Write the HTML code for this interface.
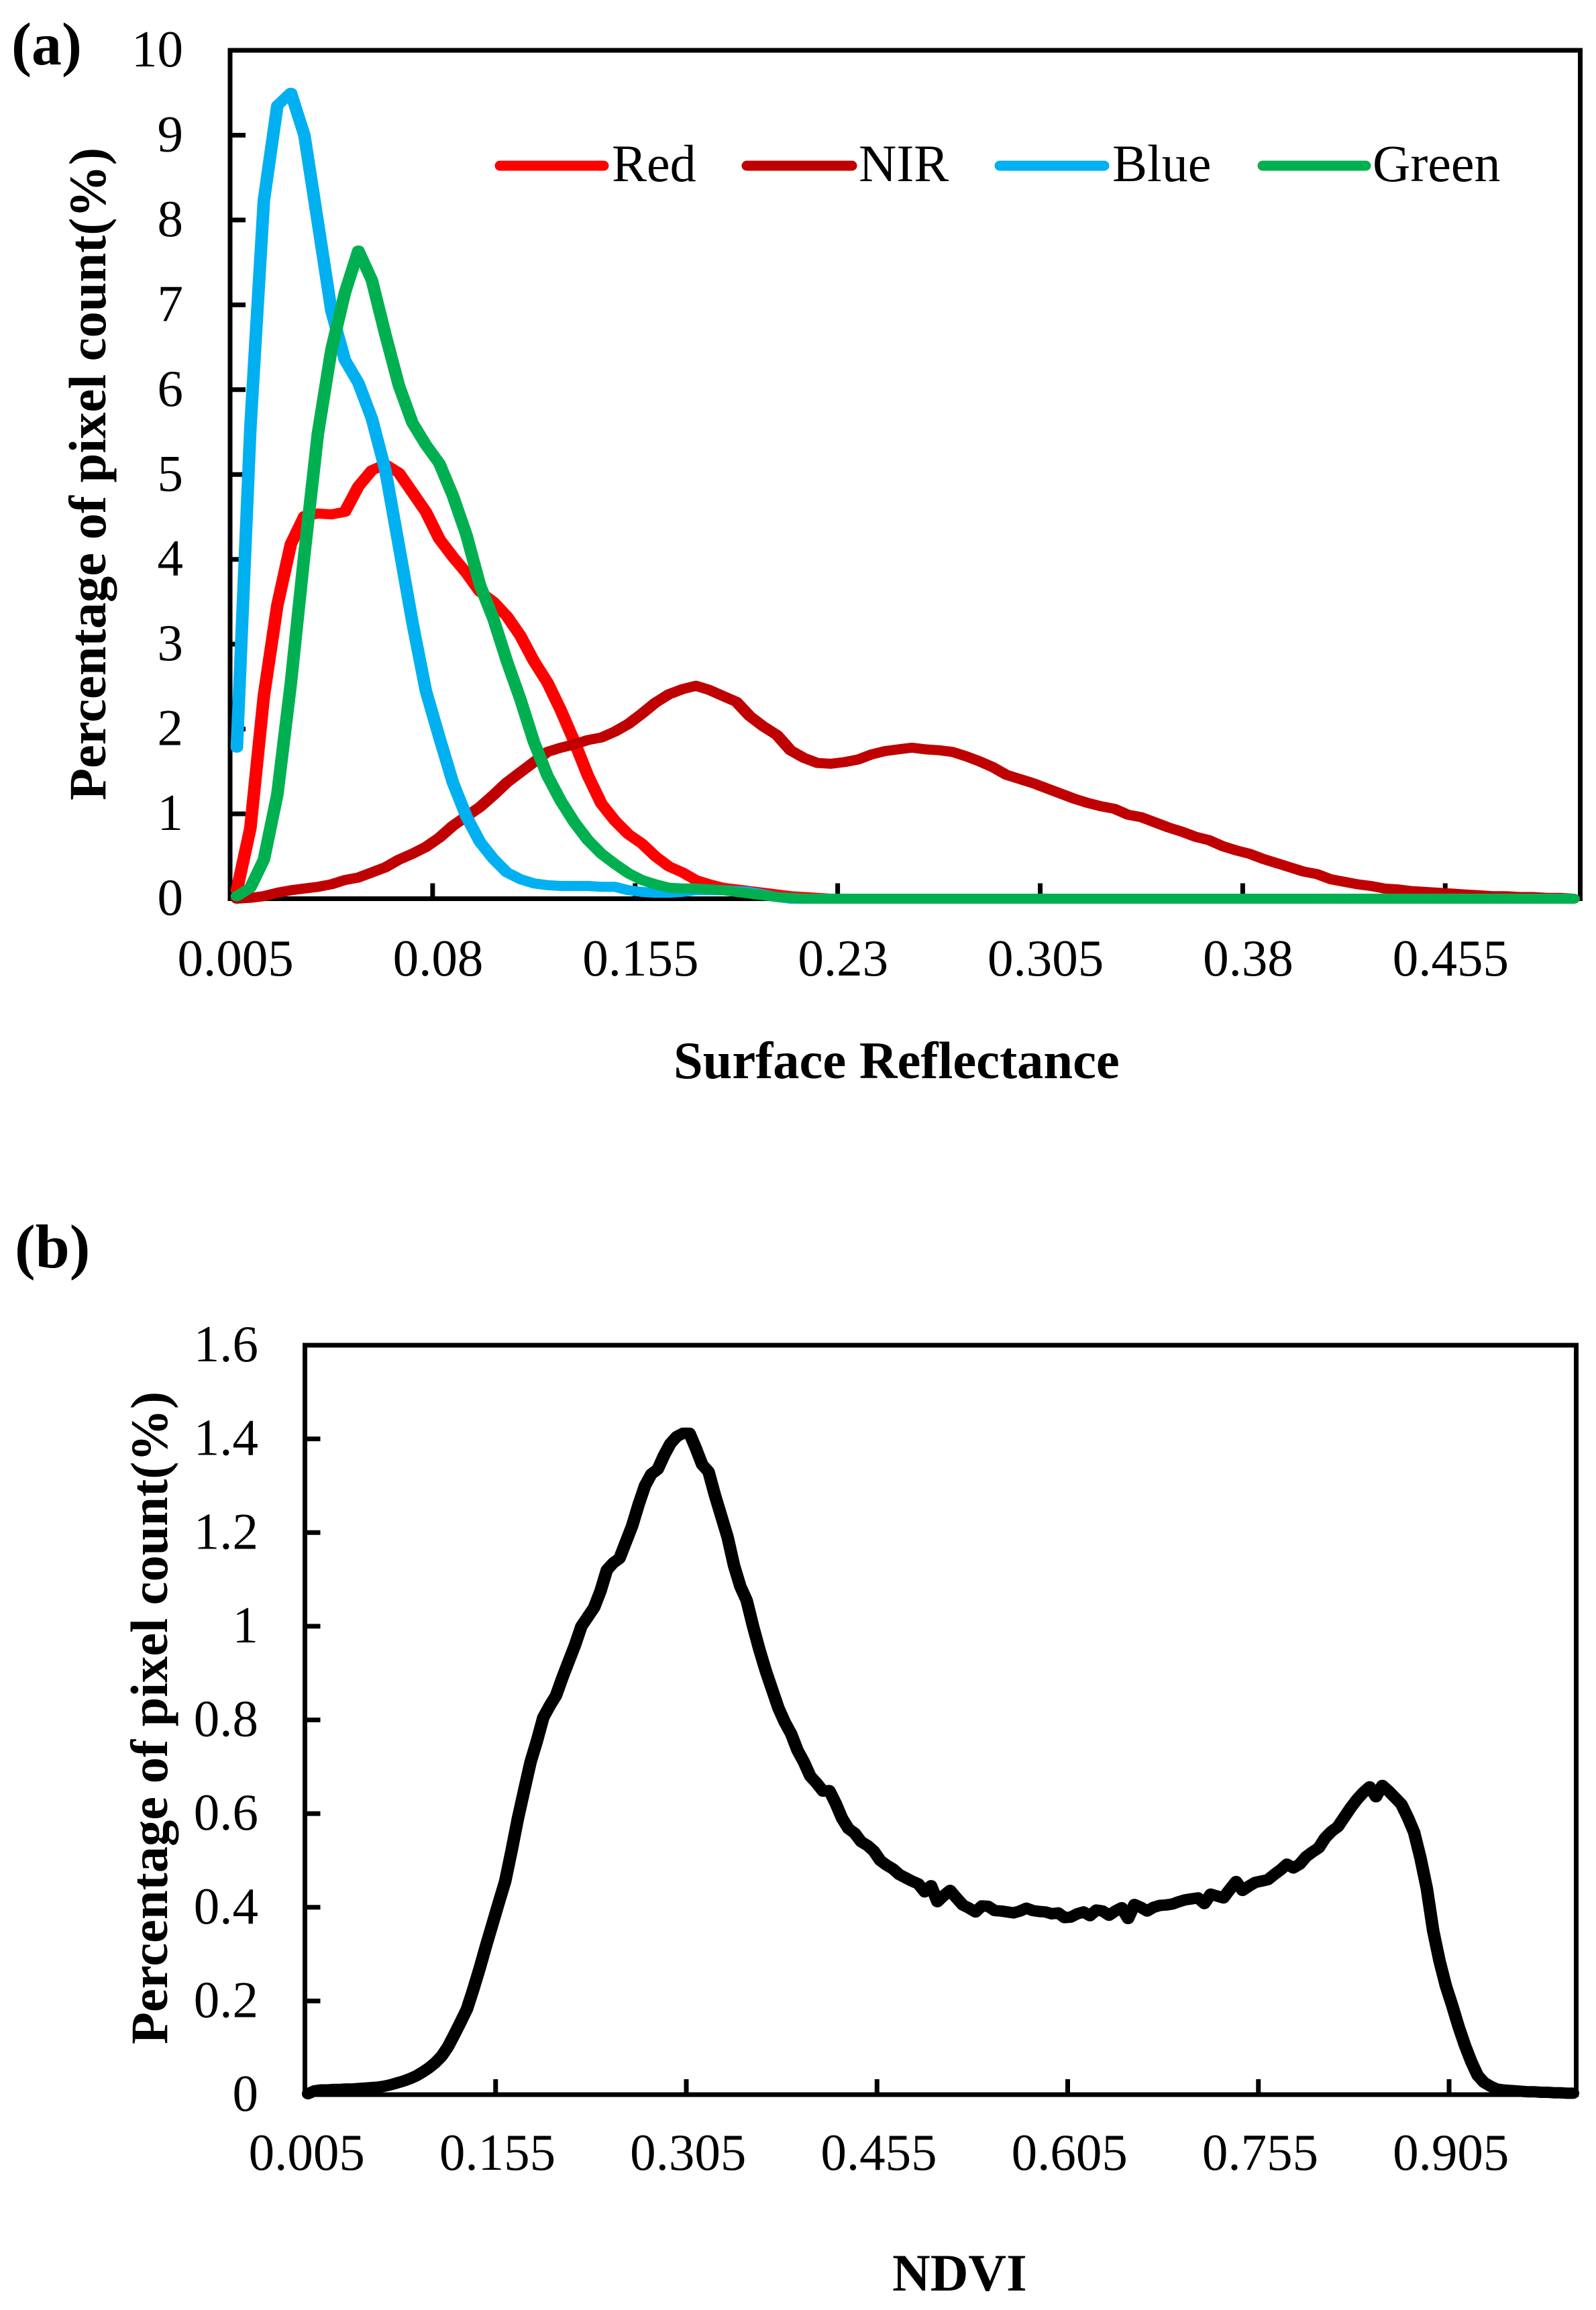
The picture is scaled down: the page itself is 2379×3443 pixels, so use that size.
<!DOCTYPE html>
<html lang="en">
<head>
<meta charset="utf-8">
<title>Surface reflectance and NDVI histograms</title>
<style>
html,body{margin:0;padding:0;background:#fff;}
svg{display:block;}
text{font-family:"Liberation Serif",serif;fill:#000;}
.tick{font-size:77px;}
.legend-text{font-size:78px;}
.title{font-size:78.5px;font-weight:bold;}
</style>
</head>
<body>
<svg id="figure" xmlns="http://www.w3.org/2000/svg" width="2379" height="3443" viewBox="0 0 2379 3443">
  <rect width="2379" height="3443" fill="#fff"/>
  <text x="17" y="96" style="font-size:90px;font-weight:bold">(a)</text>
  <text x="22" y="1889" style="font-size:92px;font-weight:bold">(b)</text>

  <g id="chart-a"></g>
  <g id="chart-b"></g>

  <text class="title" transform="translate(157,1193) rotate(-90)">Percentage of pixel count(%)</text>
  <text class="title" x="1004" y="1607">Surface Reflectance</text>
  <text class="title" transform="translate(249,3047) rotate(-90)">Percentage of pixel count(%)</text>
  <text class="title" x="1330" y="3414">NDVI</text>

  <g id="legend">
    <g>
      <line x1="745" y1="247" x2="900" y2="247" stroke="#ff0000" stroke-width="15" stroke-linecap="round"/>
      <text class="legend-text" x="912" y="270">Red</text>
    </g>
    <g>
      <line x1="1113" y1="247" x2="1270" y2="247" stroke="#c00000" stroke-width="15" stroke-linecap="round"/>
      <text class="legend-text" x="1280" y="270">NIR</text>
    </g>
    <g>
      <line x1="1490" y1="247" x2="1646" y2="247" stroke="#00b0f0" stroke-width="15" stroke-linecap="round"/>
      <text class="legend-text" x="1658" y="270">Blue</text>
    </g>
    <g>
      <line x1="1882" y1="247" x2="2036" y2="247" stroke="#00b050" stroke-width="15" stroke-linecap="round"/>
      <text class="legend-text" x="2046" y="270">Green</text>
    </g>
  </g>
</svg>

<script>
// Panel (a): reflectance histograms, one value per 0.005 bin starting at 0.005
const reflectanceBinCount = 100;
const reflectanceBinStart = 0.005;
const reflectanceBinStep = 0.005;
const reflectanceXTickLabels = ["0.005","0.08","0.155","0.23","0.305","0.38","0.455"];
const reflectanceYTickLabels = ["0","1","2","3","4","5","6","7","8","9","10"];
const reflectanceYMax = 10;

const redValues = [0.1,0.83,2.39,3.46,4.18,4.51,4.54,4.53,4.56,4.86,5.05,5.12,5.02,4.79,4.56,4.24,4.03,3.84,3.62,3.5,3.33,3.1,2.8,2.55,2.22,1.85,1.45,1.12,0.92,0.76,0.65,0.5,0.38,0.31,0.22,0.17,0.13,0.11,0.09,0.07,0.05,0.03,0.02,0.01,0,0,0,0,0,0,0,0,0,0,0,0,0,0,0,0,0,0,0,0,0,0,0,0,0,0,0,0,0,0,0,0,0,0,0,0,0,0,0,0,0,0,0,0,0,0,0,0,0,0,0,0,0,0,0,0];
const nirValues = [0,0.01,0.03,0.07,0.1,0.12,0.14,0.17,0.22,0.25,0.31,0.37,0.46,0.53,0.61,0.72,0.86,0.97,1.08,1.22,1.37,1.49,1.61,1.73,1.78,1.82,1.87,1.9,1.97,2.06,2.18,2.31,2.41,2.47,2.51,2.46,2.39,2.32,2.15,2.03,1.93,1.75,1.66,1.6,1.59,1.61,1.64,1.7,1.74,1.76,1.78,1.76,1.75,1.73,1.68,1.62,1.55,1.46,1.41,1.36,1.3,1.24,1.18,1.13,1.09,1.06,0.99,0.96,0.9,0.84,0.79,0.73,0.69,0.62,0.57,0.53,0.47,0.42,0.37,0.32,0.29,0.23,0.2,0.17,0.15,0.12,0.11,0.09,0.08,0.07,0.06,0.05,0.04,0.03,0.03,0.02,0.02,0.01,0.01,0];
const blueValues = [1.78,5.55,8.23,9.35,9.5,9.0,7.97,6.93,6.35,6.08,5.66,5.05,4.16,3.26,2.45,1.9,1.37,0.97,0.67,0.47,0.31,0.23,0.18,0.16,0.15,0.15,0.15,0.14,0.14,0.1,0.08,0.07,0.07,0.08,0.1,0.1,0.1,0.09,0.08,0.05,0.02,0,0,0,0,0,0,0,0,0,0,0,0,0,0,0,0,0,0,0,0,0,0,0,0,0,0,0,0,0,0,0,0,0,0,0,0,0,0,0,0,0,0,0,0,0,0,0,0,0,0,0,0,0,0,0,0,0,0,0];
const greenValues = [0.03,0.13,0.46,1.23,2.54,4.06,5.48,6.47,7.14,7.64,7.29,6.65,6.05,5.61,5.35,5.13,4.75,4.29,3.7,3.3,2.8,2.35,1.85,1.45,1.15,0.9,0.69,0.53,0.41,0.3,0.22,0.17,0.13,0.12,0.12,0.11,0.1,0.08,0.06,0.04,0.02,0.01,0,0,0,0,0,0,0,0,0,0,0,0,0,0,0,0,0,0,0,0,0,0,0,0,0,0,0,0,0,0,0,0,0,0,0,0,0,0,0,0,0,0,0,0,0,0,0,0,0,0,0,0,0,0,0,0,0,0];

// Panel (b): NDVI histogram, one value per 0.005 bin starting at 0.005
const ndviBinCount = 200;
const ndviBinStart = 0.005;
const ndviBinStep = 0.005;
const ndviXTickLabels = ["0.005","0.155","0.305","0.455","0.605","0.755","0.905"];
const ndviYTickLabels = ["0","0.2","0.4","0.6","0.8","1","1.2","1.4","1.6"];
const ndviYMax = 1.6;

const ndviValues = [
0.002,0.008,0.01,0.01,0.011,0.011,0.012,0.012,0.013,0.014,
0.015,0.016,0.018,0.021,0.025,0.029,0.034,0.04,0.048,0.057,
0.068,0.082,0.102,0.128,0.155,0.183,0.225,0.27,0.318,0.364,
0.41,0.455,0.52,0.589,0.65,0.71,0.755,0.805,0.83,0.852,
0.89,0.925,0.96,1.0,1.02,1.04,1.075,1.12,1.135,1.145,
1.18,1.215,1.26,1.3,1.325,1.335,1.365,1.39,1.405,1.412,
1.412,1.38,1.345,1.33,1.28,1.235,1.19,1.13,1.085,1.055,
1.0,0.95,0.905,0.865,0.825,0.795,0.77,0.735,0.71,0.68,
0.665,0.648,0.649,0.622,0.59,0.568,0.558,0.54,0.532,0.52,
0.5,0.49,0.482,0.47,0.463,0.456,0.45,0.433,0.446,0.412,
0.425,0.436,0.42,0.405,0.398,0.39,0.403,0.402,0.393,0.392,
0.39,0.388,0.392,0.398,0.393,0.391,0.39,0.386,0.388,0.378,
0.379,0.386,0.39,0.382,0.394,0.392,0.383,0.392,0.399,0.376,
0.406,0.4,0.392,0.4,0.404,0.405,0.407,0.412,0.416,0.418,
0.42,0.408,0.428,0.424,0.42,0.438,0.455,0.436,0.445,0.453,
0.456,0.459,0.47,0.48,0.492,0.484,0.492,0.508,0.518,0.527,
0.548,0.562,0.572,0.592,0.612,0.63,0.645,0.657,0.636,0.66,
0.648,0.634,0.62,0.592,0.56,0.505,0.44,0.35,0.285,0.232,
0.19,0.145,0.105,0.07,0.041,0.026,0.018,0.012,0.01,0.009,
0.008,0.007,0.006,0.006,0.005,0.005,0.004,0.004,0.003,0.003];

const SVG_NS = "http://www.w3.org/2000/svg";

function make(parent, tag, attrs, text) {
  const el = document.createElementNS(SVG_NS, tag);
  for (const k in attrs) el.setAttribute(k, attrs[k]);
  if (text !== undefined) el.textContent = text;
  parent.appendChild(el);
  return el;
}

function drawChart(cfg) {
  const g = document.getElementById(cfg.id);
  const L = cfg.left, R = cfg.right, T = cfg.top, B = cfg.bottom;
  const binW = (R - L) / cfg.binCount;
  const xScale = function (v) { return L + ((v - cfg.binStart) / cfg.binStep + 0.5) * binW; };
  const yScale = function (v) { return B - (v / cfg.yMax) * (B - T); };
  const sx = cfg.strokeStretch;

  // frame drawn first so the series overlap it
  const frame = make(g, "rect", {x: L, y: T, width: R - L, height: B - T, fill: "none", stroke: "#000", "stroke-width": 7});
  
  

  // y ticks and labels
  cfg.yLabels.forEach(function (lab) {
    const y = yScale(parseFloat(lab));
    if (y > T + 1 && y < B - 1) {
      const t = make(g, "line", {x1: L, x2: L + 23, y1: y, y2: y, stroke: "#000", "stroke-width": 7});
      
      
    }
    const tx = make(g, "text", {x: cfg.yLabelRight, y: y + 24, "text-anchor": "end", "class": "tick"}, lab);
    
    
  });

  // x ticks and labels
  cfg.xLabels.forEach(function (lab) {
    const cx = xScale(parseFloat(lab));
    const tickX = cx - binW / 2;
    if (tickX > L + 1) {
      const t = make(g, "line", {x1: tickX, x2: tickX, y1: B, y2: B - 23, stroke: "#000", "stroke-width": 7});
      
      
    }
    const tx = make(g, "text", {x: cx - 2, y: cfg.xLabelBaseline, "text-anchor": "middle", "class": "tick"}, lab);
    
    
  });

  // series; the group stretch widens steep strokes more than flat ones, as in the source image
  cfg.series.forEach(function (s) {
    const pts = s.values.map(function (v, i) {
      const binValue = cfg.binStart + i * cfg.binStep;
      return (xScale(binValue) / sx).toFixed(2) + "," + yScale(v).toFixed(1);
    }).join(" ");
    const line = make(g, "polyline", {points: pts, transform: "scale(" + sx + ",1)", fill: "none", stroke: s.color, "stroke-width": cfg.lineWidth, "stroke-linejoin": "round", "stroke-linecap": "round"});
    
    
  });
}

drawChart({
  id: "chart-a", left: 343, right: 2355.5, top: 75, bottom: 1339.5,
  binCount: reflectanceBinCount, binStart: reflectanceBinStart, binStep: reflectanceBinStep,
  yMax: reflectanceYMax, yLabels: reflectanceYTickLabels, xLabels: reflectanceXTickLabels,
  yLabelRight: 273, xLabelBaseline: 1454, lineWidth: 15, strokeStretch: 1.25,
  series: [
    {name: "series-red", color: "#ff0000", values: redValues},
    {name: "series-nir", color: "#c00000", values: nirValues},
    {name: "series-blue", color: "#00b0f0", values: blueValues},
    {name: "series-green", color: "#00b050", values: greenValues}
  ]
});

drawChart({
  id: "chart-b", left: 454.5, right: 2349.5, top: 2005, bottom: 3122,
  binCount: ndviBinCount, binStart: ndviBinStart, binStep: ndviBinStep,
  yMax: ndviYMax, yLabels: ndviYTickLabels, xLabels: ndviXTickLabels,
  yLabelRight: 385, xLabelBaseline: 3234, lineWidth: 17, strokeStretch: 1.1,
  series: [
    {name: "series-ndvi", color: "#000000", values: ndviValues}
  ]
});
</script>
</body>
</html>
